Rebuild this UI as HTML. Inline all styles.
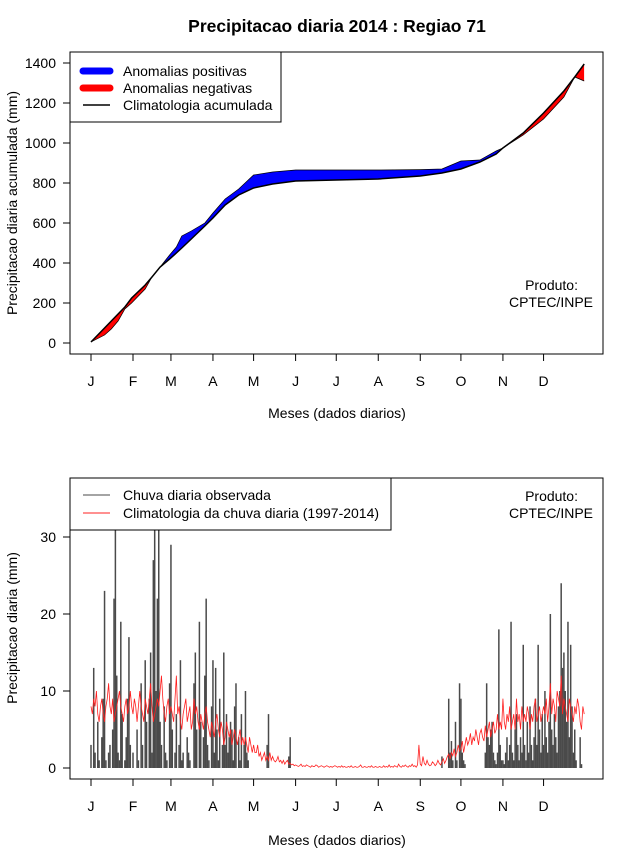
<!DOCTYPE html>
<html><head><meta charset="utf-8"><style>
body{margin:0;background:#fff}
svg{display:block;font-family:"Liberation Sans",sans-serif}
</style></head><body>
<svg id="s" width="640" height="850" viewBox="0 0 640 850"></svg>
<script>
const months=["J","F","M","A","M","J","J","A","S","O","N","D"];
const monthStartDay=[0,31,59,90,120,151,181,212,243,273,304,334];
const yTicksTop=[0,200,400,600,800,1000,1200,1400];
const yTicksBot=[0,10,20,30];
const cumDays=[0,10,15,20,25,30,40,45,51,58,63,67,74,84,90,99,104,109,120,134,151,181,212,243,259,273,287,299,304,319,334,349,357,364];
const cumObs=[5,40,70,110,170,200,270,330,380,440,480,535,560,600,650,720,745,770,840,855,865,865,865,867,870,910,915,960,975,1040,1120,1230,1330,1310];
const cumClim=[5,75,110,145,180,225,290,330,380,420,450,475,520,585,625,690,715,740,775,795,810,815,820,835,850,870,905,945,975,1050,1150,1260,1330,1395];
const obsDaily=[3,0,13,2,0,6,1,0,4,9,23,1,0,2,3,0,5,22,31,12,2,1,19,7,0,1,4,9,17,3,0,
2,0,0,5,1,0,11,3,0,14,6,0,9,15,2,27,31,10,22,31,6,3,0,8,2,1,0,11,
29,5,0,2,7,0,3,14,1,2,0,0,4,2,1,0,0,11,15,5,0,19,6,0,4,12,22,3,1,0,8,
14,2,13,5,1,9,0,3,15,3,7,2,4,6,5,1,8,11,0,4,1,7,0,3,10,2,1,0,0,0,
0,0,0,0,0,0,0,0,0,0,3,7,0,0,0,0,0,0,0,0,0,0,0,0,0,0,1.5,4,0,0,0,
0,0,0,0,0,0,0,0,0,0,0,0,0,0,0,0,0,0,0,0,0,0,0,0,0,0,0,0,0,0,
0,0,0,0,0,0,0,0,0,0,0,0,0,0,0,0,0,0,0,0,0,0,0,0,0,0,0,0,0,0,0,
0,0,0,0,0,0,0,0,0,0,0,0,0,0,0,0,0,0,0,0,0,0,0,0,0,0,0,0,0,0,0,
0,0,0,0,0,0,0,0,0,0,0,0,0,0,0,0,1.5,0,0,0,0,9,2,3.5,1,0,6,1,0,11,
9,2,1,0.5,0,0,0,0,0,0,0,0,0,0,0,0,0,0,2,11,4,3,5,6,2,1,0.5,2,18,3,1,
1,0.5,2,4,1,3,19,2,1,5,7,3,1,4,2,16,3,1,6,2,8,3,1,4,9,3,16,5,2,7,
3,10,4,2,6,20,5,3,7,4,2,8,10,24,13,15,10,6,19,4,16,8,2,5,1,0,0,4,0.5,0,0];
const climDaily=[8,7,9,8,10,7,6,8,9,7,6,8,9,11,8,7,9,6,7,8,9,10,8,7,6,8,9,7,8,10,8,
7,9,8,6,8,10,8,7,6,9,8,7,9,11,8,6,7,8,9,8,10,12,9,7,6,8,9,7,
8,7,6,9,12,7,8,6,5,7,8,9,6,7,8,5,6,9,7,8,6,5,7,6,5,7,8,6,5,4,6,
5,4,6,7,5,4,6,5,3,4,6,5,4,5,3,4,5,4,3,4,5,3,4,3,4,3,2,4,3,2,
3,2,2,3,1.5,2,1,1.5,2,1,1.5,1,2,1,1.5,1,0.8,1,1.5,0.8,1,0.6,1,0.5,0.8,1,0.5,0.6,0.4,0.5,0.3,
0.4,0.3,0.2,0.3,0.5,0.2,0.3,0.2,0.4,0.3,0.2,0.1,0.3,0.2,0.2,0.4,0.3,0.1,0.2,0.3,0.2,0.1,0.2,0.3,0.2,0.1,0.2,0.1,0.2,0.3,
0.2,0.1,0.2,0.1,0.3,0.1,0.2,0.1,0.1,0.2,0.1,0.3,0.1,0.1,0.2,0.1,0.1,0.2,0.4,0.1,0.1,0.2,0.1,0.1,0.2,0.1,0.3,0.1,0.1,0.2,0.1,
0.1,0.2,0.1,0.1,0.3,0.1,0.2,0.1,0.4,0.1,0.2,0.1,0.3,0.2,0.1,0.5,0.2,0.1,0.3,0.2,0.4,0.2,0.1,0.3,0.2,0.5,0.2,0.3,0.1,0.4,3,
0.5,0.3,1.5,0.6,0.4,1,0.5,0.3,0.4,0.8,0.6,0.3,0.5,1,0.6,0.4,0.8,1.2,0.6,1,1.5,1.8,1.2,2,1.6,2.5,1.5,2,3,2.2,
2.5,3.5,2,3,4,3,3.5,4.5,3,4,3.5,5,4,3,4.5,5,4,3.5,5.5,4,5,6,4,5,6,4.5,5,7,5,6,5,
9,6,5,7,6,8,5,6,7,5,9,6,7,5,8,6,7,6,8,7,5,7,6,8,9,6,7,8,6,7,
8,7,9,6,8,11,7,9,8,6,10,9,8,12,7,9,8,7,6,9,8,7,6,8,7,9,8,6,5,8,7];

const NS="http://www.w3.org/2000/svg";
const svg=document.getElementById("s");
function mk(tag,attrs,parent){const e=document.createElementNS(NS,tag);for(const k in attrs)e.setAttribute(k,attrs[k]);(parent||svg).appendChild(e);return e;}
function txt(x,y,s,attrs,parent){const e=mk("text",Object.assign({x:x,y:y},attrs||{}),parent);e.textContent=s;return e;}
const xDay=d=>91+d*1.355;
const yTop=v=>343-v*0.2;
const yBot=v=>768-v*7.7;

// ---------- TOP CHART ----------
let t=txt(337,32,"Precipitacao diaria 2014 : Regiao 71",{"font-size":17.5,"font-weight":"bold","text-anchor":"middle"});


const defs=mk("defs",{});
const climPts=cumDays.map((d,i)=>xDay(d)+","+yTop(cumClim[i])).join(" ");
const obsPts=cumDays.map((d,i)=>xDay(d)+","+yTop(cumObs[i])).join(" ");
const cpA=mk("clipPath",{id:"above"},defs);
mk("polygon",{points:xDay(0)+",0 "+climPts+" "+xDay(364)+",0"},cpA);
const cpB=mk("clipPath",{id:"below"},defs);
mk("polygon",{points:xDay(0)+",400 "+climPts+" "+xDay(364)+",400"},cpB);
const band=obsPts+" "+cumDays.slice().reverse().map((d,i)=>{const j=cumDays.length-1-i;return xDay(d)+","+yTop(cumClim[j]);}).join(" ");
let p=mk("polygon",{points:band,fill:"#0000ff","clip-path":"url(#above)"});


p=mk("polygon",{points:band,fill:"#ff0000","clip-path":"url(#below)"});


p=mk("polyline",{points:obsPts,fill:"none",stroke:"#000","stroke-width":0.7});


p=mk("polyline",{points:climPts,fill:"none",stroke:"#000","stroke-width":1.5});


p=mk("rect",{x:70,y:52,width:533,height:302,fill:"none",stroke:"#000"});


yTicksTop.forEach(v=>{
  const y=yTop(v);
  mk("line",{x1:63,x2:70,y1:y,y2:y,stroke:"#000"});
  const l=txt(56,y+5,String(v),{"font-size":14,"text-anchor":"end"});
  
  
});
months.forEach((m,i)=>{
  const x=xDay(monthStartDay[i]);
  mk("line",{x1:x,x2:x,y1:354,y2:361,stroke:"#000"});
  const l=txt(x,386,m,{"font-size":14,"text-anchor":"middle"});
  
  
});
t=txt(337,418,"Meses (dados diarios)",{"font-size":14,"text-anchor":"middle"});


t=txt(0,0,"Precipitacao diaria acumulada (mm)",{"font-size":14,"text-anchor":"middle",transform:"translate(17,203) rotate(-90)"});


t=txt(578,290,"Produto:",{"font-size":14,"text-anchor":"end"});


t=txt(593,307,"CPTEC/INPE",{"font-size":14,"text-anchor":"end"});


const lg=mk("g",{});


mk("rect",{x:70,y:52,width:211,height:70,fill:"#fff",stroke:"#000"},lg);
mk("line",{x1:83,x2:110,y1:71,y2:71,stroke:"#0000ff","stroke-width":7,"stroke-linecap":"round"},lg);
mk("line",{x1:83,x2:110,y1:88,y2:88,stroke:"#ff0000","stroke-width":7,"stroke-linecap":"round"},lg);
mk("line",{x1:83,x2:110,y1:105,y2:105,stroke:"#000","stroke-width":1.5},lg);
let le=txt(123,76,"Anomalias positivas",{"font-size":14},lg);


le=txt(123,93,"Anomalias negativas",{"font-size":14},lg);


le=txt(123,110,"Climatologia acumulada",{"font-size":14},lg);



// ---------- BOTTOM CHART ----------
const bars=mk("g",{stroke:"#4a4a4a","stroke-width":1.5});


obsDaily.forEach((v,i)=>{
  if(v<=0)return;
  const x=xDay(i);
  const b=mk("line",{x1:x,x2:x,y1:yBot(0),y2:Math.max(yBot(v),478)},bars);
  
  
});
p=mk("polyline",{points:climDaily.map((v,i)=>xDay(i)+","+yBot(v)).join(" "),fill:"none",stroke:"#ff2020","stroke-width":0.8});


p=mk("rect",{x:70,y:478,width:533,height:301,fill:"none",stroke:"#000"});


yTicksBot.forEach(v=>{
  const y=yBot(v);
  mk("line",{x1:63,x2:70,y1:y,y2:y,stroke:"#000"});
  const l=txt(56,y+5,String(v),{"font-size":14,"text-anchor":"end"});
  
  
});
months.forEach((m,i)=>{
  const x=xDay(monthStartDay[i]);
  mk("line",{x1:x,x2:x,y1:779,y2:786,stroke:"#000"});
  const l=txt(x,811,m,{"font-size":14,"text-anchor":"middle"});
  
  
});
t=txt(337,845,"Meses (dados diarios)",{"font-size":14,"text-anchor":"middle"});


t=txt(0,0,"Precipitacao diaria (mm)",{"font-size":14,"text-anchor":"middle",transform:"translate(17,628) rotate(-90)"});


t=txt(578,501,"Produto:",{"font-size":14,"text-anchor":"end"});


t=txt(593,518,"CPTEC/INPE",{"font-size":14,"text-anchor":"end"});


const lg2=mk("g",{});


mk("rect",{x:70,y:478,width:321,height:52,fill:"#fff",stroke:"#000"},lg2);
mk("line",{x1:83,x2:110,y1:495,y2:495,stroke:"#4a4a4a","stroke-width":1},lg2);
mk("line",{x1:83,x2:110,y1:513,y2:513,stroke:"#ff2020","stroke-width":1},lg2);
le=txt(123,500,"Chuva diaria observada",{"font-size":14},lg2);


le=txt(123,518,"Climatologia da chuva diaria (1997-2014)",{"font-size":14},lg2);


</script>
</body></html>
